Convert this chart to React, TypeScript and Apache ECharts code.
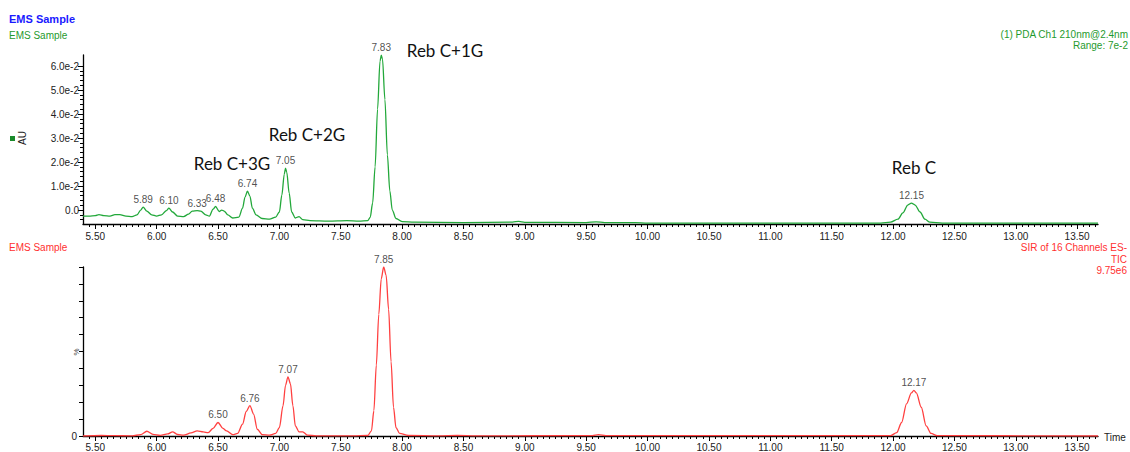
import React, { useEffect, useRef } from "react";
import * as echarts from "echarts";

// PDA trace (AU, in units of 1e-2)
const pdaTime = [5.40, 5.45, 5.50, 5.53, 5.57, 5.62, 5.66, 5.70, 5.75, 5.80, 5.84, 5.87, 5.89, 5.92, 5.96, 6.00, 6.04, 6.08, 6.10, 6.13, 6.17, 6.22, 6.26, 6.29, 6.33, 6.36, 6.40, 6.43, 6.46, 6.48, 6.51, 6.53, 6.55, 6.58, 6.62, 6.67, 6.70, 6.72, 6.74, 6.76, 6.78, 6.81, 6.86, 6.92, 6.97, 7.00, 7.02, 7.04, 7.05, 7.06, 7.08, 7.10, 7.13, 7.16, 7.19, 7.25, 7.40, 7.55, 7.65, 7.72, 7.74, 7.76, 7.78, 7.80, 7.82, 7.83, 7.84, 7.86, 7.88, 7.90, 7.92, 7.95, 8.00, 8.10, 8.50, 8.90, 8.95, 9.00, 9.50, 9.58, 9.65, 9.90, 10.00, 11.00, 11.90, 11.98, 12.04, 12.08, 12.12, 12.15, 12.18, 12.22, 12.26, 12.30, 12.40, 13.67];
const pdaAU = [-0.25, -0.25, -0.23, -0.19, -0.23, -0.25, -0.19, -0.19, -0.25, -0.27, -0.2, 0.0, 0.12, -0.04, -0.2, -0.25, -0.2, -0.02, 0.08, -0.08, -0.25, -0.27, -0.17, -0.04, -0.02, -0.04, -0.2, -0.25, 0.04, 0.15, -0.06, 0.0, -0.04, -0.2, -0.33, -0.29, 0.08, 0.54, 0.79, 0.58, 0.08, -0.2, -0.35, -0.38, -0.29, -0.08, 0.62, 1.5, 1.75, 1.58, 0.7, -0.08, -0.33, -0.27, -0.4, -0.44, -0.46, -0.44, -0.46, -0.44, -0.3, 0.3, 1.8, 4.2, 6.2, 6.45, 6.3, 4.6, 2.3, 0.8, 0.0, -0.35, -0.48, -0.5, -0.52, -0.5, -0.47, -0.51, -0.52, -0.49, -0.52, -0.52, -0.54, -0.54, -0.54, -0.5, -0.38, -0.12, 0.21, 0.29, 0.21, -0.08, -0.38, -0.5, -0.54, -0.54];
const pdaPeakTimes = [5.89, 6.10, 6.33, 6.48, 6.74, 7.05, 7.83, 12.15];
const pdaPeakHeights = [0.12, 0.08, -0.02, 0.15, 0.79, 1.75, 6.45, 0.29];

// TIC trace (%)
const ticTime = [5.40, 5.55, 5.65, 5.80, 5.87, 5.92, 5.97, 6.03, 6.09, 6.13, 6.17, 6.22, 6.28, 6.33, 6.38, 6.42, 6.46, 6.50, 6.54, 6.57, 6.62, 6.66, 6.70, 6.73, 6.76, 6.79, 6.82, 6.86, 6.92, 6.97, 7.00, 7.03, 7.05, 7.07, 7.09, 7.11, 7.13, 7.16, 7.19, 7.23, 7.30, 7.60, 7.72, 7.75, 7.77, 7.79, 7.81, 7.83, 7.85, 7.87, 7.89, 7.91, 7.93, 7.95, 7.98, 8.05, 8.30, 8.45, 8.60, 9.55, 9.60, 9.66, 11.98, 12.03, 12.07, 12.11, 12.15, 12.17, 12.19, 12.23, 12.27, 12.31, 12.36, 13.67];
const ticPct = [0, 0.3, 0.2, 0.1, 0.8, 2.8, 1.0, 0.4, 1.2, 2.5, 0.9, 0.5, 1.8, 3.0, 2.4, 2.0, 4.5, 8.0, 4.5, 3.0, 0.8, 1.5, 7, 14.5, 18, 13, 4, 0.8, 0.5, 1.5, 5, 18, 30, 35, 31, 18, 6, 2.5, 2.5, 0.5, 0.1, 0.1, 0.3, 3, 15, 42, 72, 93, 100, 95, 75, 44, 17, 5, 1.5, 0.3, 0.1, 0.3, 0.1, 0.2, 0.8, 0.2, 0.2, 2, 8, 19, 25.5, 27, 25.5, 17, 6, 1.5, 0.2, 0];
const ticPeakTimes = [6.50, 6.76, 7.07, 7.85, 12.17];
const ticPeakHeights = [8, 18, 35, 100, 27];

// Axes
const xMajorTicks = [5.5, 6.0, 6.5, 7.0, 7.5, 8.0, 8.5, 9.0, 9.5, 10.0, 10.5, 11.0, 11.5, 12.0, 12.5, 13.0, 13.5];
const pdaYTicks = [0, 1, 2, 3, 4, 5, 6];
const annotations = ["Reb C+3G", "Reb C+2G", "Reb C+1G", "Reb C"];

const X_MIN = 5.40;
const X_MAX = 13.67;
const xMinorTicks = Array.from({ length: 165 }, (_, i) => +(5.45 + i * 0.05).toFixed(2));
const yMinorTicks = Array.from({ length: 33 }, (_, i) => +(-0.4 + i * 0.2).toFixed(1));

const GREEN = "#22a83a";
const GREEN_TEXT = "#1f9a2e";
const RED = "#ff4040";
const RED_TEXT = "#ff3030";
const FONT = '"Liberation Sans", Arial, sans-serif';

export default function App() {
  const ref = useRef<HTMLDivElement>(null);
  useEffect(() => {
    if (!ref.current) return;
    const chart = echarts.init(ref.current, undefined, { renderer: "svg" });
    const pdaData = pdaTime.map((t, i) => [t, pdaAU[i]]);
    const ticData = ticTime.map((t, i) => [t, ticPct[i]]);
    const pdaPeaks = pdaPeakTimes.map((t, i) => [t, pdaPeakHeights[i]]);
    const ticPeaks = ticPeakTimes.map((t, i) => [t, ticPeakHeights[i]]);

    const axisLine = { show: true, onZero: false, lineStyle: { color: "#000", width: 1.3 } };
    const majorX = (grid: number, margin: number) => ({
      type: "value",
      gridIndex: grid,
      min: X_MIN,
      max: X_MAX,
      position: "bottom",
      axisLine,
      splitLine: { show: false },
      axisTick: { show: true, length: 5, customValues: xMajorTicks, lineStyle: { color: "#000" } },
      axisLabel: {
        show: true,
        customValues: xMajorTicks,
        margin,
        fontSize: 10,
        color: "#222",
        fontFamily: FONT,
        formatter: (v: number) => v.toFixed(2),
      },
    });
    const minorX = (grid: number) => ({
      type: "value",
      gridIndex: grid,
      min: X_MIN,
      max: X_MAX,
      position: "bottom",
      axisLine: { show: false, onZero: false },
      splitLine: { show: false },
      axisLabel: { show: false },
      axisTick: { show: true, length: 3, customValues: xMinorTicks, lineStyle: { color: "#000" } },
    });

    const annX = [232, 307, 445, 914];
    const annY = [163, 134, 50, 167];

    const peakLabel = {
      show: true,
      position: "top",
      distance: 2,
      fontSize: 10,
      color: "#222",
      fontFamily: FONT,
      formatter: (p: any) => p.value[0].toFixed(2),
    };

    chart.setOption({
      animation: false,
      backgroundColor: "#fff",
      grid: [
        { left: 83, right: 32, top: 55, height: 169 },
        { left: 83, right: 32, top: 267, height: 170 },
      ],
      xAxis: [majorX(0, 7), minorX(0), majorX(1, 6), minorX(1)],
      yAxis: [
        {
          type: "value",
          gridIndex: 0,
          min: -0.58,
          max: 6.46,
          axisLine,
          splitLine: { show: false },
          axisTick: { show: true, length: 5, customValues: pdaYTicks, lineStyle: { color: "#000" } },
          axisLabel: {
            customValues: pdaYTicks,
            fontSize: 10,
            color: "#222",
            margin: 4,
            fontFamily: FONT,
            formatter: (v: number) => (v === 0 ? "0.0" : v.toFixed(1) + "e-2"),
          },
        },
        {
          type: "value",
          gridIndex: 0,
          min: -0.58,
          max: 6.46,
          position: "left",
          axisLine: { show: false, onZero: false },
          splitLine: { show: false },
          axisLabel: { show: false },
          axisTick: { show: true, length: 3, customValues: yMinorTicks, lineStyle: { color: "#000" } },
        },
        {
          type: "value",
          gridIndex: 1,
          min: 0,
          max: 100,
          interval: 10,
          axisLine,
          splitLine: { show: false },
          axisTick: { show: true, length: 4, lineStyle: { color: "#000" } },
          axisLabel: {
            fontSize: 10,
            color: "#222",
            margin: 6,
            fontFamily: FONT,
            formatter: (v: number) => (v === 0 ? "0" : ""),
          },
        },
      ],
      series: [
        {
          type: "line",
          xAxisIndex: 0,
          yAxisIndex: 0,
          data: pdaData,
          symbol: "none",
          smooth: 0.3,
          smoothMonotone: "x",
          lineStyle: { color: GREEN, width: 1.3 },
          z: 3,
        },
        {
          type: "scatter",
          xAxisIndex: 0,
          yAxisIndex: 0,
          data: pdaPeaks,
          symbolSize: 1,
          itemStyle: { color: "rgba(0,0,0,0)" },
          label: peakLabel,
        },
        {
          type: "line",
          xAxisIndex: 2,
          yAxisIndex: 2,
          data: ticData,
          symbol: "none",
          smooth: 0.3,
          smoothMonotone: "x",
          lineStyle: { color: RED, width: 1.3 },
          z: 3,
        },
        {
          type: "scatter",
          xAxisIndex: 2,
          yAxisIndex: 2,
          data: ticPeaks,
          symbolSize: 1,
          itemStyle: { color: "rgba(0,0,0,0)" },
          label: peakLabel,
        },
      ],
      graphic: [
        { type: "text", x: 9, y: 19, style: { text: "EMS Sample", fill: "#1a1aff", font: `bold 11px ${FONT}`, align: "left", verticalAlign: "middle" } },
        { type: "text", x: 9, y: 35, style: { text: "EMS Sample", fill: GREEN_TEXT, font: `10px ${FONT}`, align: "left", verticalAlign: "middle" } },
        { type: "text", x: 1128, y: 34, style: { text: "(1) PDA Ch1 210nm@2.4nm", fill: GREEN_TEXT, font: `10px ${FONT}`, align: "right", verticalAlign: "middle" } },
        { type: "text", x: 1128, y: 45, style: { text: "Range: 7e-2", fill: GREEN_TEXT, font: `10px ${FONT}`, align: "right", verticalAlign: "middle" } },
        { type: "rect", shape: { x: 10, y: 136, width: 5, height: 5 }, style: { fill: "#1a8a2a" } },
        { type: "text", x: 22, y: 138, rotation: Math.PI / 2, style: { text: "AU", fill: "#222", font: `10px ${FONT}`, align: "center", verticalAlign: "middle" } },
        { type: "text", x: 76, y: 352, rotation: Math.PI / 2, style: { text: "%", fill: "#444", font: `8px ${FONT}`, align: "center", verticalAlign: "middle" } },
        { type: "text", x: 9, y: 247, style: { text: "EMS Sample", fill: RED_TEXT, font: `10px ${FONT}`, align: "left", verticalAlign: "middle" } },
        { type: "text", x: 1127, y: 247, style: { text: "SIR of 16 Channels ES-", fill: RED_TEXT, font: `10px ${FONT}`, align: "right", verticalAlign: "middle" } },
        { type: "text", x: 1127, y: 259, style: { text: "TIC", fill: RED_TEXT, font: `10px ${FONT}`, align: "right", verticalAlign: "middle" } },
        { type: "text", x: 1127, y: 270, style: { text: "9.75e6", fill: RED_TEXT, font: `10px ${FONT}`, align: "right", verticalAlign: "middle" } },
        { type: "text", x: 1104, y: 437, style: { text: "Time", fill: "#222", font: `10px ${FONT}`, align: "left", verticalAlign: "middle" } },
        ...annotations.map((t, i) => ({
          type: "text",
          x: annX[i],
          y: annY[i],
          style: { text: t, fill: "#111", font: `17px Lato, ${FONT}`, align: "center", verticalAlign: "middle" },
        })),
      ],
    });
    return () => chart.dispose();
  }, []);
  return <div ref={ref} style={{ position: "fixed", left: 0, top: 0, width: 1130, height: 452 }} />;
}
